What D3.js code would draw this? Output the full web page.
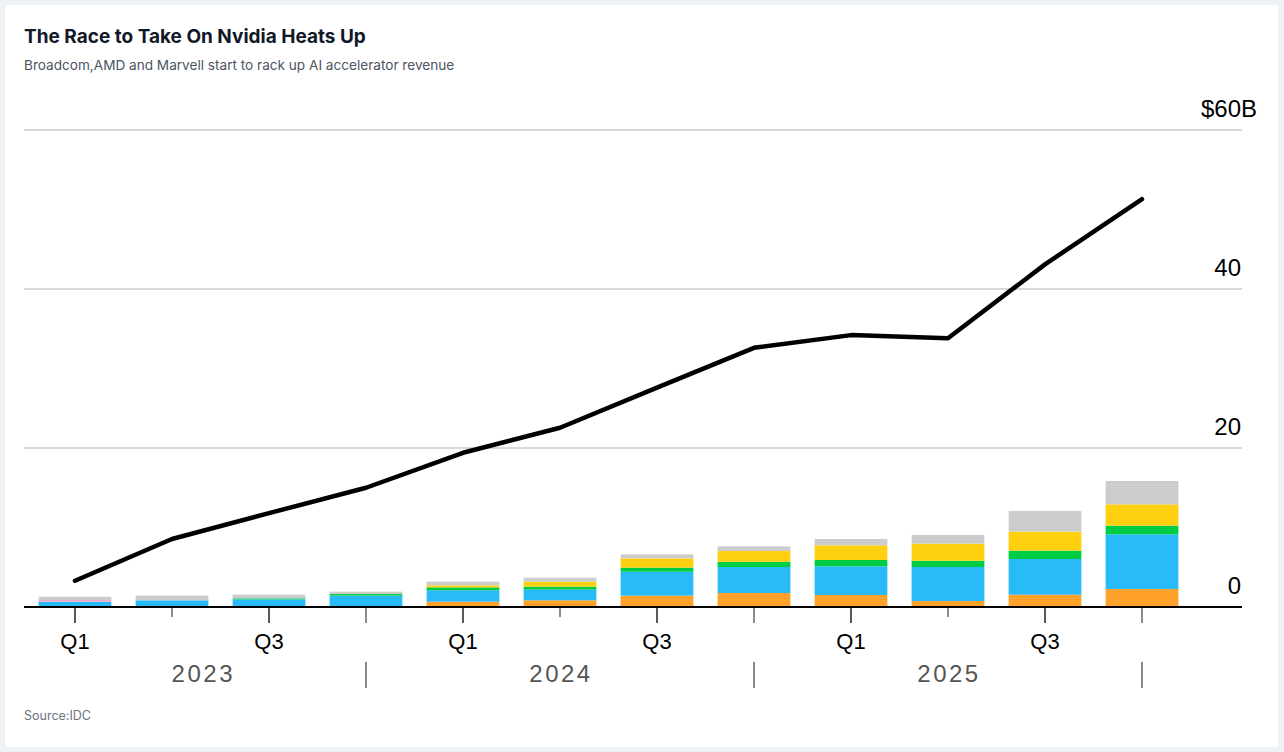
<!DOCTYPE html>
<html>
<head>
<meta charset="utf-8">
<script src="https://cdn.jsdelivr.net/npm/d3@7"></script>
<style>
  body { margin: 0; background: #eef2f5; }
  svg { display: block; }
</style>
</head>
<body>
<script>
const w = 1284;
const h = 752;

// quarters on the x axis
const years = ["2023", "2024", "2025"];
const quarters = ["Q1", "Q2", "Q3", "Q4"];
const periods = years.flatMap((y) => quarters.map((q) => y + " " + q));

// stacked bars, $B (bottom to top)
const orange = [0, 0, 0, 0.08, 0.67, 0.84, 1.43, 1.76, 1.51, 0.75, 1.55, 2.26];
const blue = [0.67, 0.84, 0.96, 1.35, 1.43, 1.34, 3.01, 3.27, 3.61, 4.28, 4.49, 6.88];
const pink = [0.21, 0, 0, 0, 0, 0, 0, 0, 0, 0, 0, 0];
const green = [0, 0, 0.13, 0.21, 0.37, 0.38, 0.51, 0.67, 0.79, 0.8, 1.05, 1.09];
const yellow = [0, 0, 0, 0, 0.26, 0.63, 1.17, 1.34, 1.85, 2.14, 2.39, 2.68];
const gray = [0.42, 0.59, 0.46, 0.29, 0.46, 0.5, 0.5, 0.59, 0.79, 1.09, 2.6, 2.94];

// Nvidia line, $B
const nvidia = [3.3, 8.55, 11.8, 15.0, 19.4, 22.55, 27.6, 32.6, 34.2, 33.8, 43.1, 51.3];

const yTicks = [0, 20, 40, 60];

const seriesKeys = ["orange", "blue", "pink", "green", "yellow", "gray"];
const seriesVals = { orange, blue, pink, green, yellow, gray };
const colors = {
  orange: "#ffa22b",
  blue: "#29bbf8",
  pink: "#f0a6cc",
  green: "#00cc44",
  yellow: "#ffd010",
  gray: "#cccccc",
};

const table = periods.map((p, i) => {
  const row = { period: p };
  seriesKeys.forEach((k) => (row[k] = seriesVals[k][i]));
  return row;
});

const svg = d3.select("body").append("svg").attr("width", w).attr("height", h);

// card
svg.append("rect").attr("width", w).attr("height", h).attr("fill", "#eef2f5");
svg.append("rect")
  .attr("x", 5).attr("y", 5)
  .attr("width", w - 11).attr("height", h - 10)
  .attr("rx", 3)
  .attr("fill", "#fff");

// titles
svg.append("text")
  .attr("x", 24).attr("y", 43)
  .attr("font-family", "Inter, sans-serif")
  .attr("font-weight", 700)
  .attr("font-size", 19)
  .attr("fill", "#111827")
  .text("The Race to Take On Nvidia Heats Up");

svg.append("text")
  .attr("x", 24).attr("y", 70)
  .attr("font-family", "Inter, sans-serif")
  .attr("font-size", 13.6)
  .attr("fill", "#4b5563")
  .text("Broadcom,AMD and Marvell start to rack up AI accelerator revenue");

svg.append("text")
  .attr("x", 24).attr("y", 720)
  .attr("font-family", "Inter, sans-serif")
  .attr("font-size", 12.5)
  .attr("fill", "#6b7280")
  .text("Source:IDC");

// scales
const x = d3.scaleBand()
  .domain(periods)
  .range([26.5, 1190.5])
  .paddingInner(0.25)
  .paddingOuter(0.125);

const y = d3.scaleLinear().domain([0, 60]).range([607, 130]);

const left = 24;
const right = 1242;
const axisFont = "'Liberation Sans', Arial, Helvetica, sans-serif";

// gridlines + labels
const grid = svg.append("g");
grid.selectAll("line")
  .data(yTicks.filter((d) => d > 0))
  .join("line")
  .attr("x1", left).attr("x2", right)
  .attr("y1", (d) => y(d)).attr("y2", (d) => y(d))
  .attr("stroke", "#cccccc")
  .attr("stroke-width", 1.5);

const yLab = svg.append("g")
  .attr("font-family", axisFont)
  .attr("font-size", 24)
  .attr("fill", "#000");
yLab.selectAll("text")
  .data(yTicks)
  .join("text")
  .attr("x", 1241)
  .attr("y", (d) => y(d) - 13)
  .attr("text-anchor", "end")
  .text((d) => (d === 60 ? "$" + d : d));
yLab.append("text")
  .attr("x", 1241)
  .attr("y", y(60) - 13)
  .text("B");

// stacked bars
const stack = d3.stack().keys(seriesKeys)(table);
svg.append("g")
  .selectAll("g")
  .data(stack)
  .join("g")
  .attr("fill", (s) => colors[s.key])
  .selectAll("rect")
  .data((s) => s.filter((d) => d[1] - d[0] > 0))
  .join("rect")
  .attr("x", (d) => x(d.data.period))
  .attr("width", x.bandwidth())
  .attr("y", (d) => y(d[1]))
  .attr("height", (d) => y(d[0]) - y(d[1]));

// baseline
svg.append("line")
  .attr("x1", left).attr("x2", right)
  .attr("y1", y(0)).attr("y2", y(0))
  .attr("stroke", "#000")
  .attr("stroke-width", 2);

// nvidia line
const line = d3.line()
  .x((d, i) => x(periods[i]) + x.bandwidth() / 2)
  .y((d) => y(d));

svg.append("path")
  .datum(nvidia)
  .attr("d", line)
  .attr("fill", "none")
  .attr("stroke", "#000")
  .attr("stroke-width", 4.5)
  .attr("stroke-linejoin", "round")
  .attr("stroke-linecap", "round");

// x ticks
const cx = (p) => x(p) + x.bandwidth() / 2;
svg.append("g")
  .selectAll("line")
  .data(periods)
  .join("line")
  .attr("x1", cx).attr("x2", cx)
  .attr("y1", y(0) + 1)
  .attr("y2", (p) => (p.endsWith("Q2") ? y(0) + 10 : y(0) + 16))
  .attr("stroke", (p) => (p.endsWith("Q1") || p.endsWith("Q3") ? "#222" : "#666"))
  .attr("stroke-width", 1.5);

// quarter labels
svg.append("g")
  .attr("font-family", axisFont)
  .attr("font-size", 22)
  .attr("fill", "#000")
  .attr("text-anchor", "middle")
  .selectAll("text")
  .data(periods.filter((p) => p.endsWith("Q1") || p.endsWith("Q3")))
  .join("text")
  .attr("x", cx)
  .attr("y", 649)
  .text((p) => p.split(" ")[1]);

// year separators + labels
const yearEnd = years.map((yr) => cx(yr + " Q4"));
const yearStart = years.map((yr, i) => (i === 0 ? x(yr + " Q1") : yearEnd[i - 1]));

svg.append("g")
  .selectAll("line")
  .data(yearEnd)
  .join("line")
  .attr("x1", (d) => d).attr("x2", (d) => d)
  .attr("y1", 662).attr("y2", 688)
  .attr("stroke", "#666")
  .attr("stroke-width", 1.5);

svg.append("g")
  .attr("font-family", axisFont)
  .attr("font-size", 24)
  .attr("fill", "#555")
  .attr("letter-spacing", 2.5)
  .attr("text-anchor", "middle")
  .selectAll("text")
  .data(years)
  .join("text")
  .attr("x", (d, i) => (yearStart[i] + yearEnd[i]) / 2 + 1)
  .attr("y", 682)
  .text((d) => d);
</script>
</body>
</html>
